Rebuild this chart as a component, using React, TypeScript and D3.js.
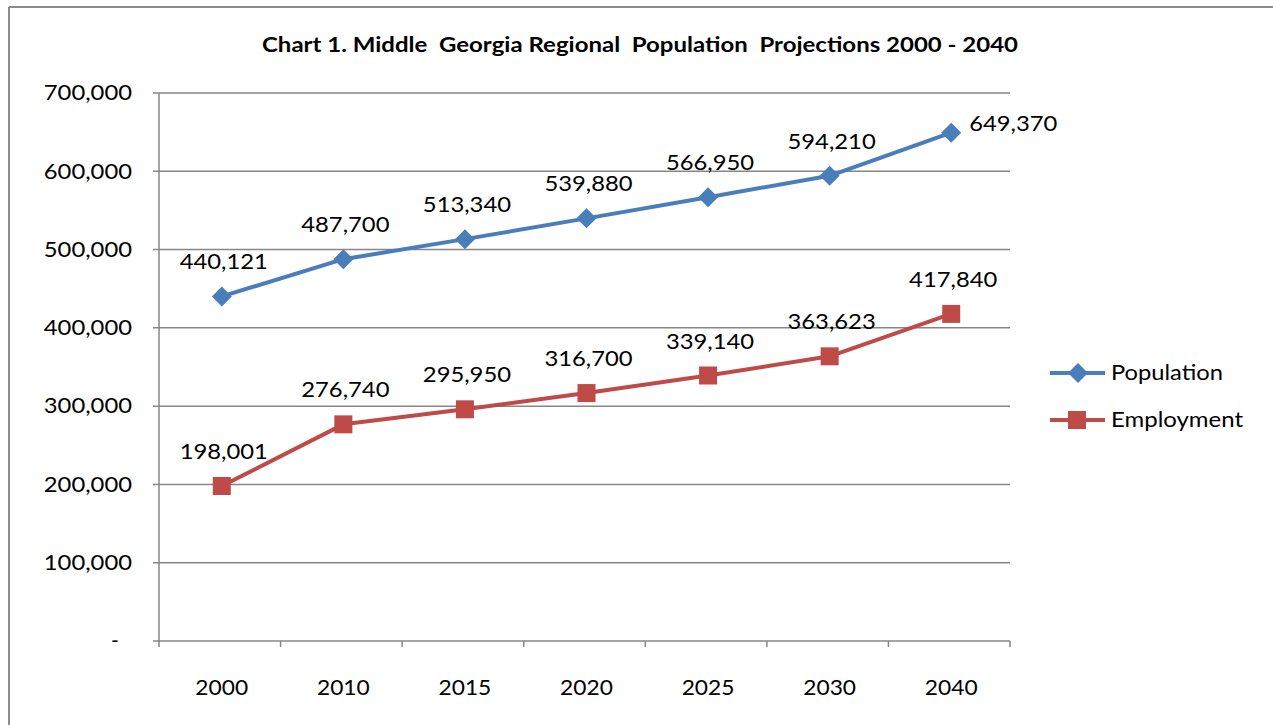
import React from "react";
import * as d3 from "d3";

const years = ["2000", "2010", "2015", "2020", "2025", "2030", "2040"];
const population = [440121, 487700, 513340, 539880, 566950, 594210, 649370];
const employment = [198001, 276740, 295950, 316700, 339140, 363623, 417840];
const yTicks = [0, 100000, 200000, 300000, 400000, 500000, 600000, 700000];
const title = "Chart 1. Middle  Georgia Regional  Population  Projections 2000 - 2040";

const W = 1273;
const H = 725;
const FONT = "Lato, 'Open Sans', sans-serif";
const BLUE = "#4a7ebb";
const RED = "#be4b48";
const GRID = "#868686";

// emulate tabular figures of the original font
const numWidth = (s: string) => {
  let w = 0;
  for (const c of s) w += c === "," ? 9 : 13.2;
  return w;
};

function Num(props: { x: number; y: number; s: string; anchor?: string; dy?: string }) {
  return (
    <text
      x={props.x}
      y={props.y}
      dy={props.dy}
      textAnchor={props.anchor || "start"}
      textLength={numWidth(props.s)}
      lengthAdjust="spacingAndGlyphs"
      fontFamily={FONT}
      fontSize={21}
      fill="#000"
    >
      {props.s}
    </text>
  );
}

export default function App() {
  const left = 159, right = 1010, top = 93, bottom = 641;
  const x = d3.scaleBand<string>().domain(years).range([left, right]);
  const y = d3.scaleLinear().domain([0, 700000]).range([bottom, top]);
  const fmt = d3.format(",");
  const cx = (i: number) => (x(years[i]) as number) + x.bandwidth() / 2 + 2;
  const line = d3.line<number>().x((_, i) => cx(i)).y((d) => y(d));

  const diamond = (px: number, py: number, r: number) =>
    `M${px},${py - r}L${px + r},${py}L${px},${py + r}L${px - r},${py}Z`;

  return (
    <svg width={W} height={H} style={{ position: "absolute", left: 0, top: 0, background: "#fff" }}>
      <rect x={0} y={0} width={W} height={H} fill="#fff" />
      <line x1={9} y1={7} x2={W} y2={7} stroke="#8c8c8c" strokeWidth={2} />
      <line x1={9} y1={7} x2={9} y2={H} stroke="#8c8c8c" strokeWidth={2} />
      <text x={262} y={52} textLength={756} lengthAdjust="spacingAndGlyphs" fontFamily={FONT} fontWeight="bold" fontSize={20} fill="#000" style={{ whiteSpace: "pre" }}>
        {title}
      </text>
      {yTicks.map((t) => (
        <g key={t}>
          <line x1={153} x2={right} y1={y(t)} y2={y(t)} stroke={GRID} strokeWidth={1.5} />
          {t === 0 ? (
            <text x={115} y={y(t)} dy="0.35em" textAnchor="middle" fontFamily={FONT} fontSize={21} fill="#000">-</text>
          ) : (
            <Num x={132} y={y(t)} dy="0.35em" anchor="end" s={fmt(t)} />
          )}
        </g>
      ))}
      <line x1={left} x2={left} y1={top} y2={bottom + 6} stroke={GRID} strokeWidth={1.5} />
      {years.map((yr, i) => (
        <g key={yr}>
          <line x1={(x(yr) as number) + x.bandwidth()} x2={(x(yr) as number) + x.bandwidth()} y1={bottom} y2={bottom + 6} stroke={GRID} strokeWidth={1.5} />
          <Num x={cx(i)} y={695} anchor="middle" s={yr} />
        </g>
      ))}
      <path d={line(population) as string} fill="none" stroke={BLUE} strokeWidth={4} strokeLinejoin="round" />
      <path d={line(employment) as string} fill="none" stroke={RED} strokeWidth={4} strokeLinejoin="round" />
      {population.map((v, i) => (
        <g key={"p" + i}>
          <path d={diamond(cx(i), y(v), 10)} fill={BLUE} />
          {i === population.length - 1 ? (
            <Num x={cx(i) + 18} y={y(v) - 2} s={fmt(v)} />
          ) : (
            <Num x={cx(i) + 2} y={y(v) - 27} anchor="middle" s={fmt(v)} />
          )}
        </g>
      ))}
      {employment.map((v, i) => (
        <g key={"e" + i}>
          <rect x={cx(i) - 9} y={y(v) - 9} width={18} height={18} fill={RED} />
          <Num x={cx(i) + 2} y={y(v) - 27} anchor="middle" s={fmt(v)} />
        </g>
      ))}
      <g>
        <line x1={1050} x2={1105} y1={373} y2={373} stroke={BLUE} strokeWidth={4} />
        <path d={diamond(1078, 373, 10)} fill={BLUE} />
        <text x={1111} y={373} dy="0.35em" textLength={112} lengthAdjust="spacingAndGlyphs" fontFamily={FONT} fontSize={21} fill="#000">Population</text>
        <line x1={1050} x2={1105} y1={420} y2={420} stroke={RED} strokeWidth={4} />
        <rect x={1068} y={411} width={18} height={18} fill={RED} />
        <text x={1111} y={420} dy="0.35em" textLength={132} lengthAdjust="spacingAndGlyphs" fontFamily={FONT} fontSize={21} fill="#000">Employment</text>
      </g>
    </svg>
  );
}
